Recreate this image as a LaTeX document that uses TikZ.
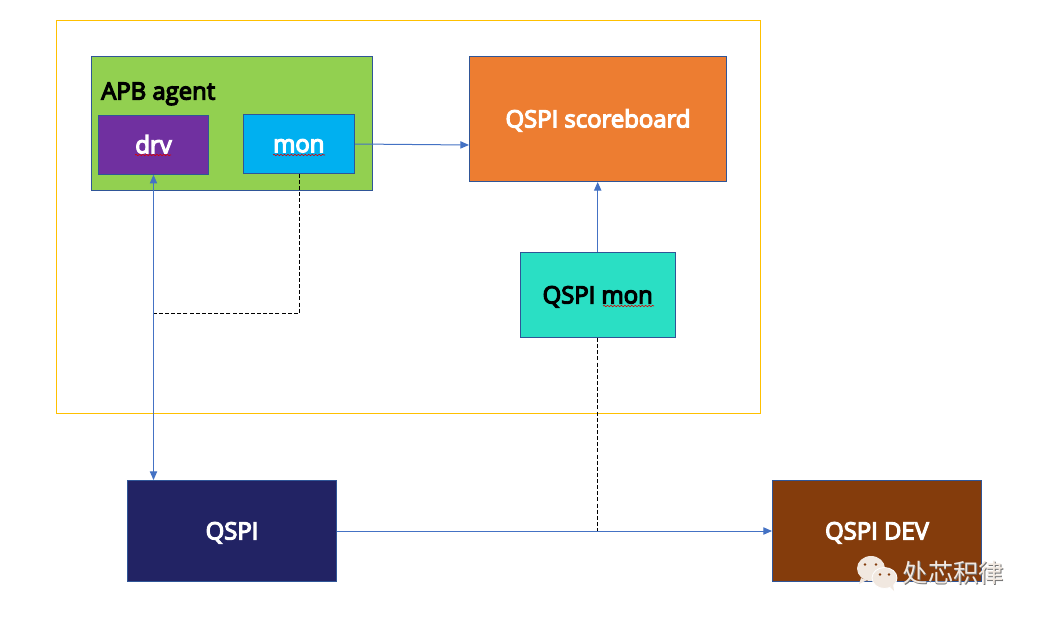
\documentclass[tikz,border=0pt]{standalone}
\usepackage{fontspec}
\setmainfont{Open Sans}[RawFeature={embolden=5}]
\newfontfamily\cjkmark{Noto Sans CJK SC}
\usetikzlibrary{arrows.meta,decorations.pathmorphing}
\definecolor{linkblue}{HTML}{4472C4}
\definecolor{edgeblue}{HTML}{2F5597}
\definecolor{framegold}{HTML}{FFC000}
\definecolor{agentgreen}{HTML}{92D050}
\definecolor{drvpurple}{HTML}{7030A0}
\definecolor{monblue}{HTML}{00B0F0}
\definecolor{scorange}{HTML}{ED7D31}
\definecolor{qmonteal}{HTML}{2ADFC4}
\definecolor{qspinavy}{HTML}{222364}
\definecolor{devbrown}{HTML}{843C0C}
\definecolor{markcream}{HTML}{F1E8E0}
\def\pxu{0.75pt}
\tikzset{
  x=0.75pt, y=-0.75pt,
  block/.style args={#1/#2/#3}{draw=edgeblue, line width=0.75pt, fill=#3,
    minimum width=#1*\pxu, minimum height=#2*\pxu, inner sep=0pt,
    text height=14.6pt, text depth=2pt, font=\fontsize{17.9}{20}\selectfont},
  link/.style={draw=linkblue, line width=0.75pt, -{Triangle[length=6.5pt,width=5.5pt]}},
  bothlink/.style={draw=linkblue, line width=0.75pt, {Triangle[length=6.5pt,width=5.5pt]}-{Triangle[length=6.5pt,width=5.5pt]}},
  probe/.style={draw=black, line width=0.75pt, dash pattern=on 3pt off 1.6pt},
  spell/.style={draw=red!85!black, line width=0.45pt, decorate,
    decoration={snake, amplitude=0.5pt, segment length=2.6pt}},
}
\begin{document}
\begin{tikzpicture}
\useasboundingbox (0,0) rectangle (1037,620);
\fill[white] (0,0) rectangle (1037,620);

% testbench frame
\node[draw=framegold, line width=0.75pt, minimum width=704*\pxu, minimum height=393*\pxu, inner sep=0pt] (env) at (408.5,217) {};

% blocks
\node[block=281/134/agentgreen] (agent) at (232,123.5) {};
\node[anchor=base west, font=\fontsize{17.9}{20}\selectfont, text=black, inner sep=0pt] (agentlabel) at (101,99.5) {APB agent};
\node[block=110/59/drvpurple, text=white] (drv) at (153.5,144.8) {drv};
\node[block=111/59/monblue, text=white] (mon) at (298.8,143.8) {mon};
\node[block=257/125/scorange, text=white] (score) at (598,119) {QSPI scoreboard};
\node[block=155/85/qmonteal, text=black] (qmon) at (597.7,295) {QSPI mon};
\node[block=209/101/qspinavy, text=white] (qspi) at (232,531) {QSPI};
\node[block=209/101/devbrown, text=white] (dev) at (877,531) {QSPI DEV};

% junctions on the shared wires
\coordinate (drvwire) at (drv.south |- 0,313);
\coordinate (monbend) at ([xshift=0.7pt]mon.south |- 0,313);
\coordinate (busjoin) at (qmon.south |- qspi.east);

% connectors
\draw[bothlink] (drv.south) -- (drv.south |- qspi.north);
\draw[link] (mon.east |- 0,144) -- (score.west |- 0,145);
\draw[link] (qmon.north) -- (qmon.north |- score.south);
\draw[link] (qspi.east) -- (dev.west);
\draw[probe] ([xshift=0.7pt]mon.south) -- (monbend) -- (drvwire);
\draw[probe] (qmon.south) -- (busjoin);

% spell-check underlines
\draw[spell] (135,155) -- (171,155);
\draw[spell] (273,155) -- (325,155);
\draw[spell] (603,306) -- (654,306);

% chat badge
\fill[markcream] (871,568.5) ellipse (14 and 12.5);
\fill[markcream] (861,578) -- (859,584) -- (867,580) -- cycle;
\fill[devbrown] (865,564.5) circle (1.4) (876,564.5) circle (1.4);
\draw[white, line width=0.6pt, fill=markcream] (884.5,578) ellipse (12.5 and 10.5);
\fill[markcream] (890,587) -- (894,591) -- (893,584) -- cycle;
\fill[devbrown] (880,574.5) circle (1.3) (889,574.5) circle (1.3);
\node[font=\cjkmark\fontsize{19}{22}\selectfont, text=black!55, inner sep=0pt] (markshadow) at (954.2,573.7) {处芯积律};
\node[font=\cjkmark\fontsize{19}{22}\selectfont, text=markcream, inner sep=0pt] (marktext) at (953.5,573) {处芯积律};
\end{tikzpicture}
\end{document}
